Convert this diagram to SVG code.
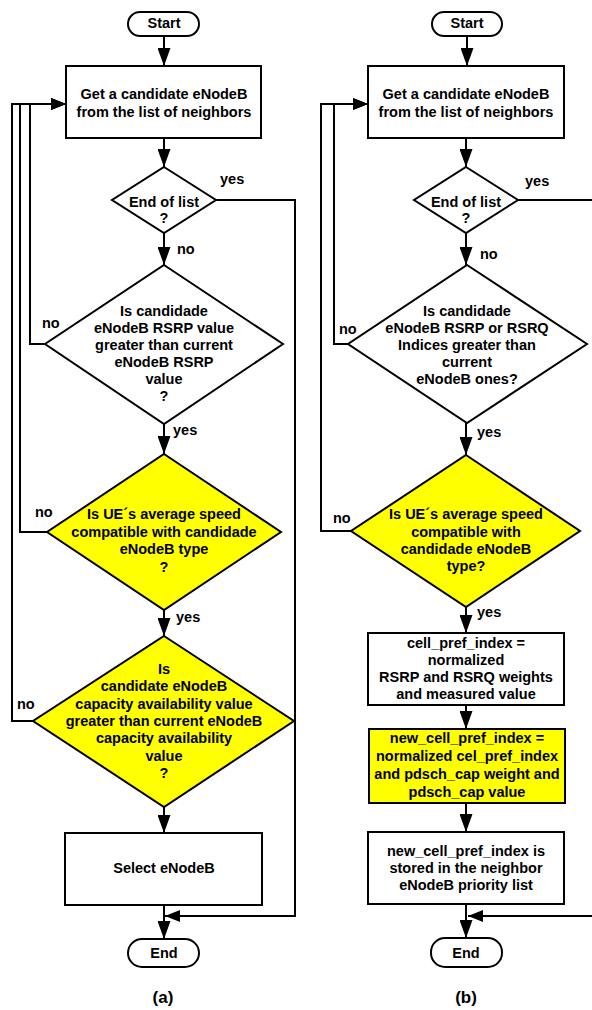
<svg xmlns="http://www.w3.org/2000/svg" width="592" height="1010" viewBox="0 0 592 1010">
<style>
.sh{fill:#fff;stroke:#000;stroke-width:2}
.y{fill:#ffff00;stroke:#000;stroke-width:2}
.c{fill:none;stroke:#000;stroke-width:2}
text{font-family:"Liberation Sans",Arial,sans-serif;font-weight:bold;font-size:14.5px;fill:#000}
.m{text-anchor:middle}
.cap{font-size:17px}
</style>
<defs>
<marker id="ah" viewBox="0 0 18 13" markerWidth="18" markerHeight="13" refX="18" refY="6.5" orient="auto" markerUnits="userSpaceOnUse"><path d="M0,0 L18,6.5 L0,13 Z" fill="#000"/></marker>
<marker id="ahs" viewBox="0 0 15 12" markerWidth="15" markerHeight="12" refX="15" refY="6" orient="auto" markerUnits="userSpaceOnUse"><path d="M0,0 L15,6 L0,12 Z" fill="#000"/></marker>
</defs>
<g id="connectors">
<path class="c" d="M164,36 V66" marker-end="url(#ah)"/>
<path class="c" d="M164,138 V167" marker-end="url(#ah)"/>
<path class="c" d="M164,233 V265" marker-end="url(#ah)"/>
<path class="c" d="M164,424 V454" marker-end="url(#ah)"/>
<path class="c" d="M164,610 V636" marker-end="url(#ah)"/>
<path class="c" d="M164,807 V833" marker-end="url(#ah)"/>
<path class="c" d="M164,905 V939" marker-end="url(#ah)"/>
<path class="c" d="M216,200 H295 V916 H165" marker-end="url(#ahs)"/>
<path class="c" d="M45,344 H30 V104 H66" marker-end="url(#ahs)"/>
<path class="c" d="M47,532 H20 V104 H66" marker-end="url(#ahs)"/>
<path class="c" d="M33,721 H12 V104 H66" marker-end="url(#ahs)"/>
<path class="c" d="M467,36 V66" marker-end="url(#ah)"/>
<path class="c" d="M466,138 V167" marker-end="url(#ah)"/>
<path class="c" d="M466,233 V265" marker-end="url(#ah)"/>
<path class="c" d="M466,423 V455" marker-end="url(#ah)"/>
<path class="c" d="M466,607 V633" marker-end="url(#ah)"/>
<path class="c" d="M466,705 V729" marker-end="url(#ah)"/>
<path class="c" d="M466,803 V832" marker-end="url(#ah)"/>
<path class="c" d="M466,904 V938" marker-end="url(#ah)"/>
<path class="c" d="M518,200 H600 V916 H468" marker-end="url(#ahs)"/>
<path class="c" d="M348,344 H334 V104 H368" marker-end="url(#ahs)"/>
<path class="c" d="M351,531 H321 V104 H368" marker-end="url(#ahs)"/>
</g>
<g id="labels">
<text x="220" y="184">yes</text>
<text x="177" y="254">no</text>
<text x="42" y="328">no</text>
<text x="173" y="435">yes</text>
<text x="35" y="517">no</text>
<text x="176" y="622">yes</text>
<text x="17" y="709">no</text>
<text x="525" y="186">yes</text>
<text x="480" y="259">no</text>
<text x="339" y="334">no</text>
<text x="477" y="437">yes</text>
<text x="333" y="523">no</text>
<text x="477" y="617">yes</text>
<text class="m cap" x="163" y="1003">(a)</text>
<text class="m cap" x="466" y="1003">(b)</text>
</g>
<g id="a-start">
<rect class="sh" x="128" y="12" width="71" height="24" rx="12"/>
<text class="m" x="164" y="28">Start</text>
</g>
<g id="a-get">
<rect class="sh" x="66" y="66" width="195" height="72"/>
<text class="m" x="164" y="99">Get a candidate eNodeB</text>
<text class="m" x="164" y="117">from the list of neighbors</text>
</g>
<g id="a-end-of-list">
<polygon class="sh" points="164,167 216,200 164,233 112,200"/>
<text class="m" x="164" y="207">End of list</text>
<text class="m" x="164" y="223">?</text>
</g>
<g id="a-rsrp">
<polygon class="sh" points="164,265 283,344 164,424 45,344"/>
<text class="m" x="164" y="316">Is candidade</text>
<text class="m" x="164" y="333">eNodeB RSRP value</text>
<text class="m" x="164" y="350">greater than current</text>
<text class="m" x="164" y="367">eNodeB RSRP</text>
<text class="m" x="164" y="384">value</text>
<text class="m" x="164" y="401">?</text>
</g>
<g id="a-speed">
<polygon class="y" points="164,454 281,532 164,610 47,532"/>
<text class="m" x="164" y="519">Is UE´s average speed</text>
<text class="m" x="164" y="536.5">compatible with candidade</text>
<text class="m" x="164" y="554">eNodeB type</text>
<text class="m" x="164" y="571.5">?</text>
</g>
<g id="a-capacity">
<polygon class="y" points="164,636 294,721 164,807 33,721"/>
<text class="m" x="164" y="674">Is</text>
<text class="m" x="164" y="691.3">candidate eNodeB</text>
<text class="m" x="164" y="708.6">capacity availability value</text>
<text class="m" x="164" y="726">greater than current eNodeB</text>
<text class="m" x="164" y="743.3">capacity availability</text>
<text class="m" x="164" y="760.6">value</text>
<text class="m" x="164" y="778">?</text>
</g>
<g id="a-select">
<rect class="sh" x="65" y="833" width="197" height="72"/>
<text class="m" x="164" y="873">Select eNodeB</text>
</g>
<g id="a-end">
<rect class="sh" x="128" y="939" width="71" height="28" rx="14"/>
<text class="m" x="164" y="958">End</text>
</g>
<g id="b-start">
<rect class="sh" x="432" y="12" width="70" height="24" rx="12"/>
<text class="m" x="467" y="28">Start</text>
</g>
<g id="b-get">
<rect class="sh" x="368" y="66" width="196" height="72"/>
<text class="m" x="466" y="99">Get a candidate eNodeB</text>
<text class="m" x="466" y="117">from the list of neighbors</text>
</g>
<g id="b-end-of-list">
<polygon class="sh" points="466,167 518,200 466,233 414,200"/>
<text class="m" x="466" y="207">End of list</text>
<text class="m" x="466" y="223">?</text>
</g>
<g id="b-rsrp-rsrq">
<polygon class="sh" points="467,265 587,344 467,423 348,344"/>
<text class="m" x="467" y="316">Is candidade</text>
<text class="m" x="467" y="333">eNodeB RSRP or RSRQ</text>
<text class="m" x="467" y="350">Indices greater than</text>
<text class="m" x="467" y="367">current</text>
<text class="m" x="467" y="384">eNodeB ones?</text>
</g>
<g id="b-speed">
<polygon class="y" points="466,455 580,531 466,607 351,531"/>
<text class="m" x="466" y="519">Is UE´s average speed</text>
<text class="m" x="466" y="536.5">compatible with</text>
<text class="m" x="466" y="554">candidade eNodeB</text>
<text class="m" x="466" y="571">type?</text>
</g>
<g id="b-cell-pref">
<rect class="sh" x="368" y="633" width="196" height="72"/>
<text class="m" x="466" y="648">cell_pref_index =</text>
<text class="m" x="466" y="665">normalized</text>
<text class="m" x="466" y="682">RSRP and RSRQ weights</text>
<text class="m" x="466" y="699">and measured value</text>
</g>
<g id="b-new-cell-pref">
<rect class="y" x="369" y="729" width="196" height="74"/>
<text class="m" x="467" y="743">new_cell_pref_index =</text>
<text class="m" x="467" y="761">normalized cel_pref_index</text>
<text class="m" x="467" y="779">and pdsch_cap weight and</text>
<text class="m" x="467" y="796.5">pdsch_cap value</text>
</g>
<g id="b-stored">
<rect class="sh" x="368" y="832" width="196" height="72"/>
<text class="m" x="466" y="856">new_cell_pref_index is</text>
<text class="m" x="466" y="873">stored in the neighbor</text>
<text class="m" x="466" y="890">eNodeB priority list</text>
</g>
<g id="b-end">
<rect class="sh" x="431" y="938" width="71" height="29" rx="14"/>
<text class="m" x="466" y="958">End</text>
</g>
</svg>
